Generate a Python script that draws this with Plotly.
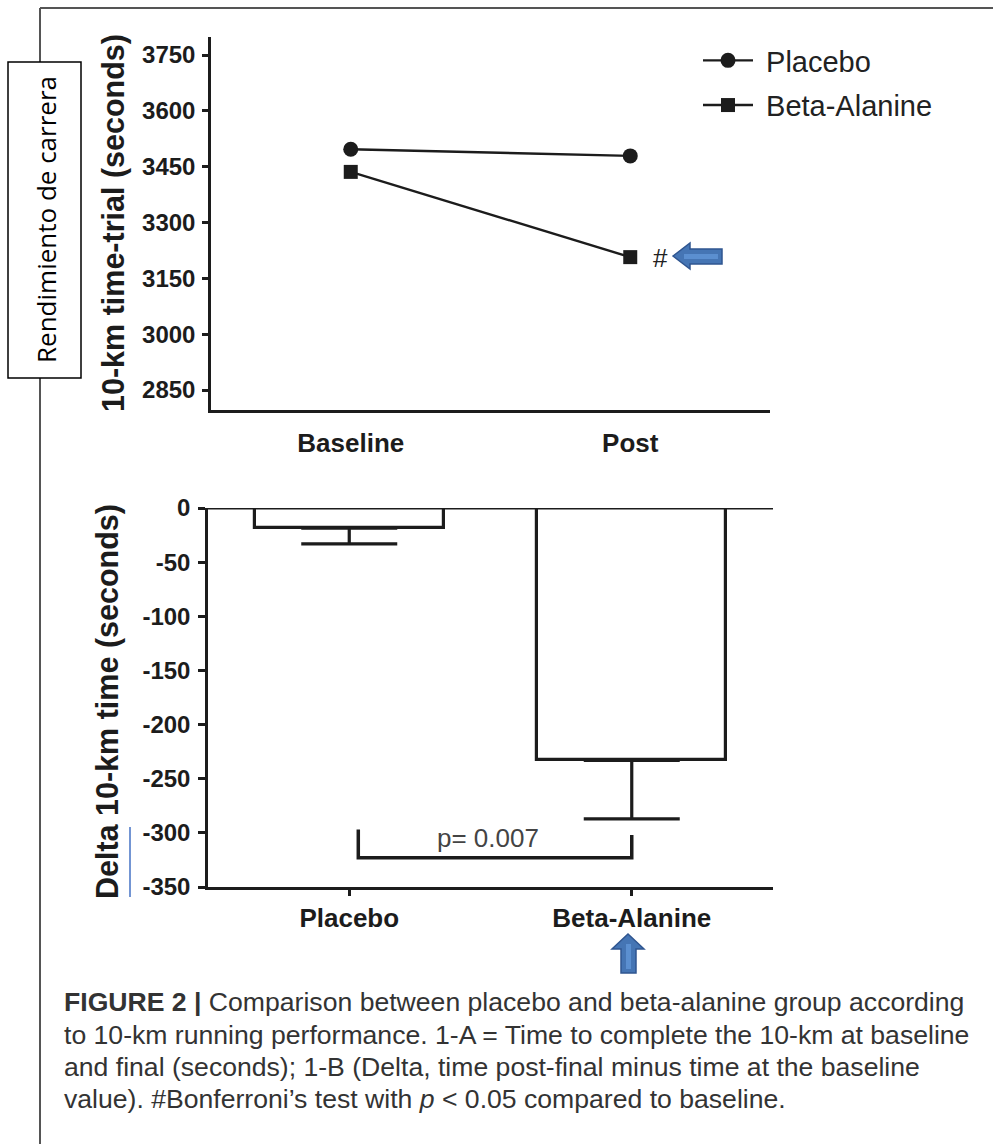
import plotly.graph_objects as go

W, H = 993, 1144

# ---- data -------------------------------------------------------------
timepoints = ["Baseline", "Post"]
placebo_time = [3497, 3479]          # 10-km time-trial (s)
beta_alanine_time = [3436, 3207]

groups = ["Placebo", "Beta-Alanine"]
delta_mean = [-18.5, -233]           # post minus baseline (s)
delta_err = [14.7, 54]               # lower error (s)

p_text = "p= 0.007"
bracket_y = [-297, -323, -302]       # left top, bottom, right top

top_ticks = [2850, 3000, 3150, 3300, 3450, 3600, 3750]
bottom_ticks = [0, -50, -100, -150, -200, -250, -300, -350]

caption_lines = [
    "<b>FIGURE 2 |</b> Comparison between placebo and beta-alanine group according",
    "to 10-km running performance. 1-A = Time to complete the 10-km at baseline",
    "and final (seconds); 1-B (Delta, time post-final minus time at the baseline",
    "value). #Bonferroni’s test with <i>p</i> &lt; 0.05 compared to baseline.",
]


def X(px):
    return px / W


def Y(py):
    return 1 - py / H


INK = "#1c1c1c"
AX_FONT = "Liberation Sans, Arial, sans-serif"
ARROW_FILL = "#4575b4"
ARROW_LINE = "#2f5590"
NBSP = "\u00a0"

fig = go.Figure()

# ---- panel A: line plot ----------------------------------------------
fig.add_trace(go.Scatter(
    x=[0, 1], y=placebo_time, name=NBSP + "Placebo", mode="lines+markers",
    line=dict(color=INK, width=2.4),
    marker=dict(symbol="circle", size=15, color=INK),
    xaxis="x", yaxis="y", legendgroup="a",
))
fig.add_trace(go.Scatter(
    x=[0, 1], y=beta_alanine_time, name=NBSP + "Beta-Alanine", mode="lines+markers",
    line=dict(color=INK, width=2.4),
    marker=dict(symbol="square", size=14, color=INK),
    xaxis="x", yaxis="y", legendgroup="b",
))

# ---- panel B: bar plot -----------------------------------------------
fig.add_trace(go.Bar(
    x=[0, 1], y=delta_mean, width=0.67,
    marker=dict(color="white", line=dict(color=INK, width=3.2)),
    error_y=dict(type="data", symmetric=False, array=[0, 0],
                 arrayminus=delta_err, color=INK, thickness=3.2, width=48),
    xaxis="x2", yaxis="y2", showlegend=False,
))

axis_common = dict(
    showline=True, linecolor=INK, linewidth=2.5, showgrid=False,
    zeroline=False, ticks="outside", tickcolor=INK, tickwidth=2.5,
    automargin=False,
)

fig.update_layout(
    template="none",
    width=W, height=H, autosize=False,
    margin=dict(l=0, r=0, t=0, b=0, pad=0, autoexpand=False),
    paper_bgcolor="white", plot_bgcolor="white",
    font=dict(family=AX_FONT, color=INK),
    bargap=0,
    xaxis=dict(
        domain=[X(211), X(770)], range=[-0.5, 1.5], anchor="y",
        tickvals=[0, 1], ticktext=[f"<b>{t}</b>" for t in timepoints],
        tickfont=dict(size=26), **{**axis_common, "ticks": ""},
        ticklabelstandoff=8,
    ),
    yaxis=dict(
        domain=[Y(410), Y(37)], range=[2796.3, 3798.4], anchor="x",
        tickvals=top_ticks, ticktext=[f"<b>{v}</b>" for v in top_ticks],
        tickfont=dict(size=24), ticklen=6, ticklabelstandoff=2,
        **axis_common,
    ),
    xaxis2=dict(
        domain=[X(208), X(773)], range=[-0.5, 1.5], anchor="y2",
        tickvals=[0, 1], ticktext=[f"<b>{g}</b>" for g in groups],
        tickfont=dict(size=26), ticklen=6, ticklabelstandoff=0,
        **axis_common,
    ),
    yaxis2=dict(
        domain=[Y(887), Y(508)], range=[-350, 0], anchor="x2",
        tickvals=bottom_ticks, ticktext=[f"<b>{v}</b>" for v in bottom_ticks],
        tickfont=dict(size=24), ticklen=7, ticklabelstandoff=3,
        **axis_common,
    ),
    legend=dict(
        x=X(698), y=Y(35), xanchor="left", yanchor="top",
        font=dict(size=29, color="#222"), bgcolor="rgba(0,0,0,0)",
        borderwidth=0, traceorder="grouped", tracegroupgap=4, itemwidth=50,
    ),
)

shapes = []
# zero line across panel B
shapes.append(dict(type="line", xref="x2", yref="y2", x0=-0.5, x1=1.5,
                   y0=0, y1=0, line=dict(color=INK, width=3)))
# significance bracket
shapes.append(dict(
    type="path", xref="x2", yref="y2",
    path=f"M 0.032 {bracket_y[0]} L 0.032 {bracket_y[1]} L 1 {bracket_y[1]} L 1 {bracket_y[2]}",
    line=dict(color=INK, width=3.5),
))
# figure frame
shapes.append(dict(type="line", xref="paper", yref="paper",
                   x0=X(40), x1=X(993), y0=Y(8), y1=Y(8),
                   line=dict(color="#555", width=2)))
shapes.append(dict(type="line", xref="paper", yref="paper",
                   x0=X(40), x1=X(40), y0=Y(8), y1=Y(1144),
                   line=dict(color="#555", width=2)))
# boxed label on the left
shapes.append(dict(type="rect", xref="paper", yref="paper",
                   x0=X(8), x1=X(81), y0=Y(378), y1=Y(62),
                   fillcolor="white", line=dict(color="black", width=1.5)))
# thin blue marker line beside panel B title
shapes.append(dict(type="line", xref="paper", yref="paper",
                   x0=X(130), x1=X(130), y0=Y(827), y1=Y(897),
                   line=dict(color="#4472c4", width=1.5)))


def poly(points):
    return "M " + " L ".join(f"{X(px):.5f} {Y(py):.5f}" for px, py in points) + " Z"


# block arrow pointing left at the '#'
left_arrow = [(673, 256), (690, 243), (690, 249), (722, 249),
              (722, 264), (690, 264), (690, 269)]
shapes.append(dict(type="path", xref="paper", yref="paper", path=poly(left_arrow),
                   fillcolor=ARROW_FILL, line=dict(color=ARROW_LINE, width=1.5)))
shapes.append(dict(type="path", xref="paper", yref="paper",
                   path=poly([(684, 254), (718, 254), (718, 259), (684, 259)]),
                   fillcolor="#5b8fd0", line=dict(width=0)))
# block arrow pointing up under the Beta-Alanine label
up_arrow = [(628, 934), (644, 949), (636, 949), (636, 973),
            (621, 973), (621, 949), (612, 949)]
shapes.append(dict(type="path", xref="paper", yref="paper", path=poly(up_arrow),
                   fillcolor=ARROW_FILL, line=dict(color=ARROW_LINE, width=1.5)))
shapes.append(dict(type="path", xref="paper", yref="paper",
                   path=poly([(626, 944), (631, 944), (631, 969), (626, 969)]),
                   fillcolor="#5b8fd0", line=dict(width=0)))
fig.update_layout(shapes=shapes)

centered = dict(xanchor="center", yanchor="middle", showarrow=False)
ann = []
# axis titles
ann.append(dict(xref="paper", yref="paper", x=X(114), y=Y(223),
                text="<b>10-km time-trial (seconds)</b>", textangle=-90,
                font=dict(size=30.5, color=INK), **centered))
ann.append(dict(xref="paper", yref="paper", x=X(107), y=Y(702),
                text="<b>Delta 10-km time (seconds)</b>", textangle=-90,
                font=dict(size=30.5, color=INK), **centered))
# boxed label text
ann.append(dict(xref="paper", yref="paper", x=X(46), y=Y(220),
                text="Rendimiento de carrera", textangle=-90,
                font=dict(size=26, color="black",
                          family="Open Sans, Liberation Sans, sans-serif"),
                **centered))
# significance marker next to the Beta-Alanine post value
ann.append(dict(xref="x", yref="y", x=1, y=beta_alanine_time[1], xshift=30, yshift=-1,
                text="#", font=dict(size=26, color="#222"), **centered))
# p-value over the bracket
ann.append(dict(xref="x2", yref="y2", x=0.49, y=-305, text=p_text,
                font=dict(size=26, color="#444"), **centered))
# caption
for line, py in zip(caption_lines, [1002, 1035, 1067, 1099]):
    ann.append(dict(xref="paper", yref="paper", x=X(62), y=Y(py),
                    xanchor="left", yanchor="middle", align="left",
                    text=line, showarrow=False,
                    font=dict(size=26.6, color="#333", family=AX_FONT)))
fig.update_layout(annotations=ann)

fig.write_html("out.html")
